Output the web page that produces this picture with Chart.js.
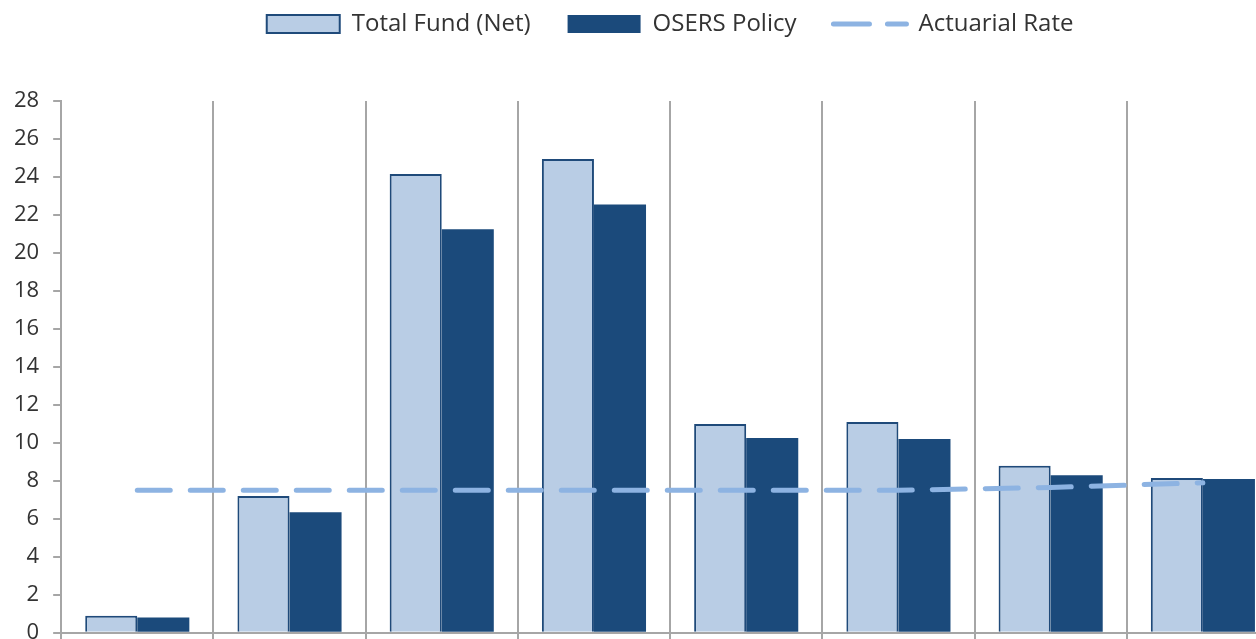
<!DOCTYPE html>
<html>
<head>
<meta charset="utf-8">
<script src="https://cdn.jsdelivr.net/npm/chart.js@4"></script>
<style>
  body { margin: 0; overflow: hidden; background: #fff; }
  #wrap { width: 1280px; height: 660px; }
</style>
</head>
<body>
<div id="wrap"><canvas id="myChart"></canvas></div>
<script>
// values
let categories = ['1', '2', '3', '4', '5', '6', '7', '8']
let totalFund = [0.9, 7.2, 24.15, 24.95, 11.0, 11.1, 8.8, 8.15]
let osersPolicy = [0.8, 6.35, 21.25, 22.55, 10.25, 10.2, 8.3, 8.1]
let actuarialRate = [7.5, 7.5, 7.5, 7.5, 7.5, 7.5, 7.65, 7.9]

let gray = '#a6a6a6'

// legend sits at the very top, plot starts lower down
const legendGap = {
  id: 'legendGap',
  beforeInit(chart) {
    const fitOld = chart.legend.fit
    chart.legend.fit = function () {
      fitOld.bind(chart.legend)()
      this.height = 101
    }
  },
  afterLayout(chart) {
    chart.legend.top = -25
  }
}

const config = {
  type: 'bar',
  data: {
    labels: categories,
    datasets: [
      {
        label: 'Total Fund (Net)',
        data: totalFund,
        backgroundColor: '#b9cde5',
        borderColor: '#1f4a7a',
        borderWidth: 2,
        pointStyle: 'rect',
        order: 1
      },
      {
        label: 'OSERS Policy',
        data: osersPolicy,
        backgroundColor: '#1b4a7b',
        borderColor: '#1b4a7b',
        borderWidth: 0,
        pointStyle: 'rect',
        order: 1
      },
      {
        type: 'line',
        label: 'Actuarial Rate',
        data: actuarialRate,
        borderColor: '#8db3e2',
        backgroundColor: '#8db3e2',
        borderWidth: 5,
        borderDash: [33, 20],
        borderCapStyle: 'round',
        pointRadius: 0,
        pointStyle: 'line',
        tension: 0,
        order: 0
      }
    ]
  },
  options: {
    responsive: true,
    maintainAspectRatio: false,
    animation: false,
    layout: { padding: { left: 0, right: 1, top: 0, bottom: 0 } },
    datasets: {
      bar: { barPercentage: 1, categoryPercentage: 0.684 }
    },
    plugins: {
      tooltip: { enabled: false },
      legend: {
        position: 'top',
        fullSize: false,
        labels: {
          usePointStyle: true,
          pointStyleWidth: 73,
          boxWidth: 73,
          boxHeight: 18,
          padding: 37,
          color: '#333',
          font: { family: 'Open Sans', size: 24 },
          sort: (a, b) => a.datasetIndex - b.datasetIndex,
          generateLabels(chart) {
            const items = Chart.defaults.plugins.legend.labels.generateLabels(chart)
            items.forEach(item => {
              if (item.datasetIndex == 2) {
                item.lineDash = [36, 18]
                item.lineCap = 'round'
                item.lineWidth = 5
              }
            })
            return items
          }
        }
      }
    },
    scales: {
      x: {
        offset: true,
        grid: { offset: true, color: gray, lineWidth: 2, tickLength: 8, drawOnChartArea: true },
        border: { color: gray, width: 2 },
        ticks: { display: false }
      },
      y: {
        min: 0,
        max: 28,
        ticks: { stepSize: 2, color: '#333', padding: 14, font: { family: 'Open Sans', size: 22 } },
        grid: { drawOnChartArea: false, color: gray, lineWidth: 2, tickLength: 8 },
        border: { color: gray, width: 2 }
      }
    }
  },
  plugins: [legendGap]
}

const myChart = new Chart(document.getElementById('myChart'), config)
</script>
</body>
</html>
